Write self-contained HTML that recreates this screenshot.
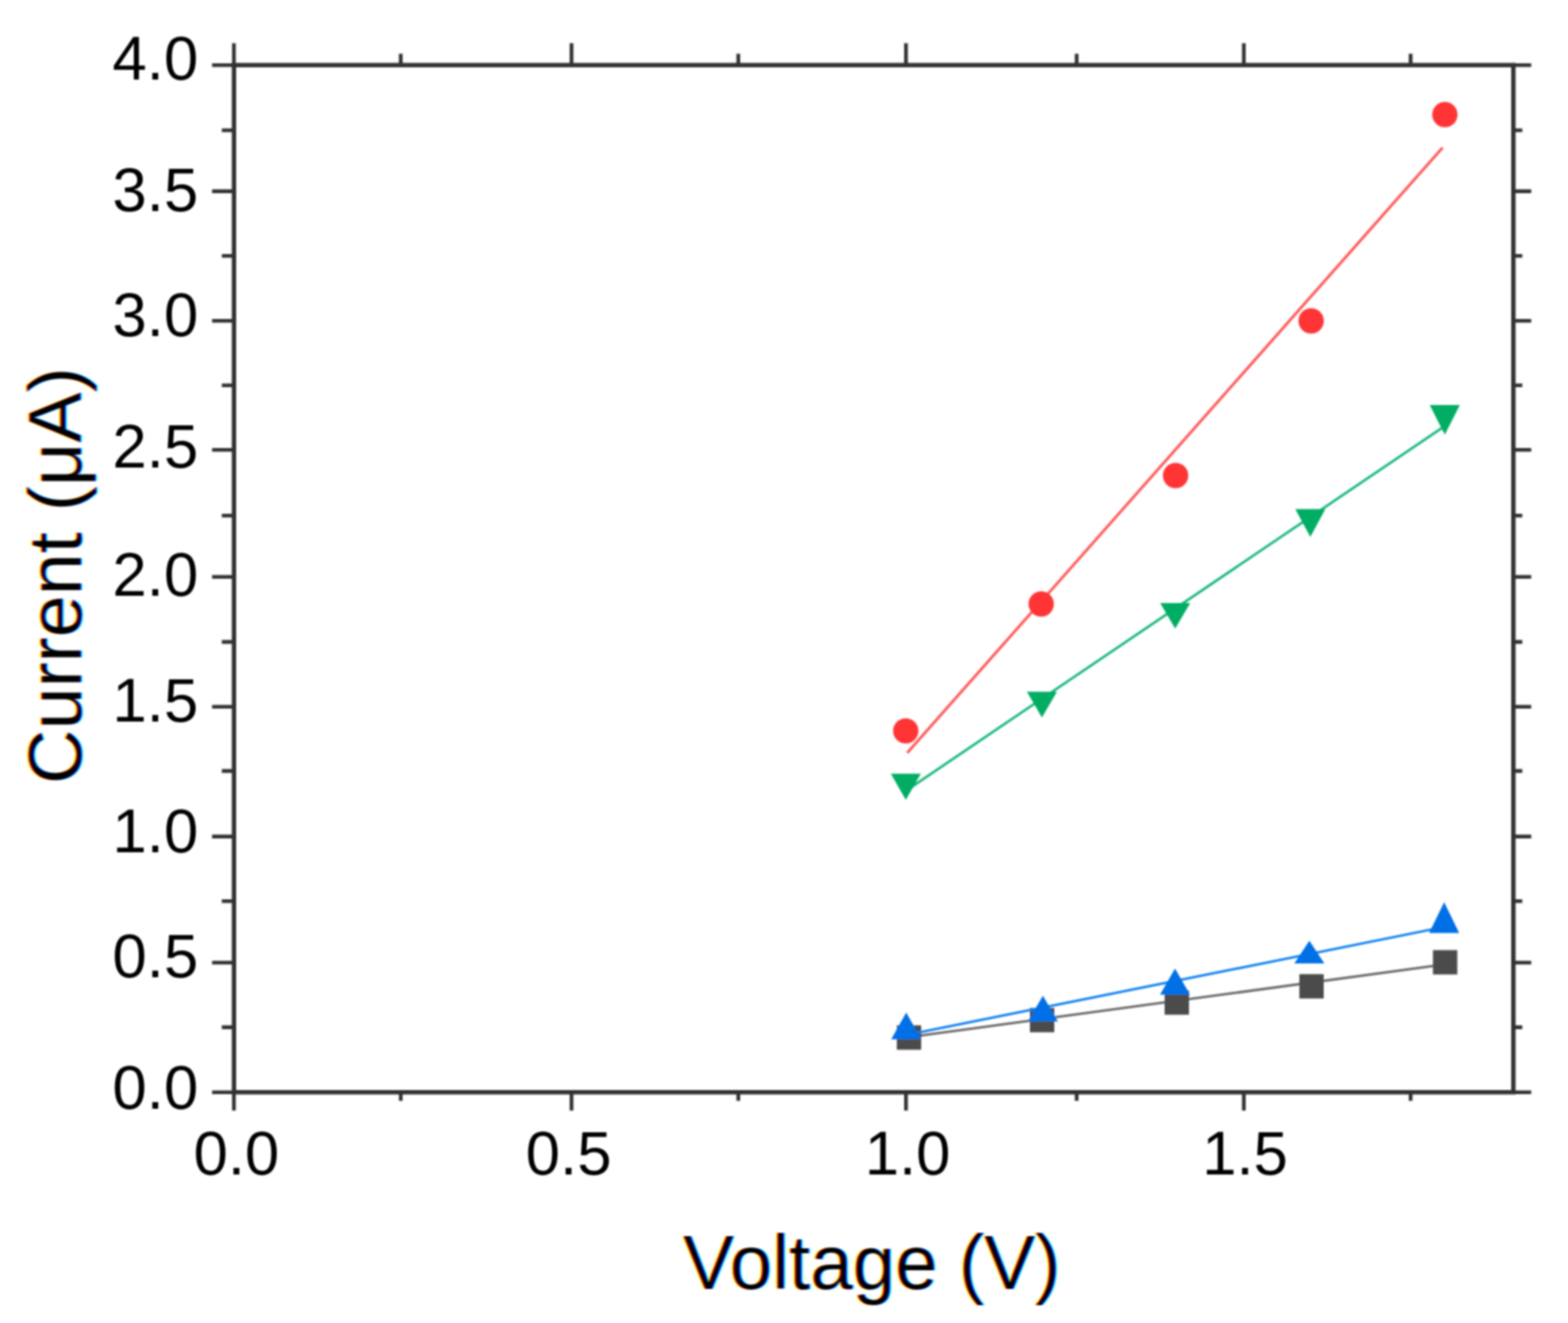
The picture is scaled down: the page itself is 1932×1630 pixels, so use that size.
<!DOCTYPE html>
<html><head><meta charset="utf-8"><title>Current vs Voltage</title>
<style>
html,body{margin:0;padding:0;background:#fff;}
body{width:1932px;height:1630px;overflow:hidden;}
svg{display:block;}
text{font-family:"Liberation Sans",Arial,sans-serif;fill:#000;}
</style></head>
<body>
<svg width="1932" height="1630" viewBox="0 0 1932 1630">
<rect width="1932" height="1630" fill="#fff"/>
<g id="plot" filter="url(#bl2)">
<line x1="1117.8" y1="1278.1" x2="1781.5" y2="1188.0" stroke="#6a6a6a" stroke-width="3.0"/>
<g fill="#4c4c4c"><rect x="1105.0" y="1263.3" width="30.0" height="30.0"/><rect x="1269.0" y="1241.8" width="30.0" height="30.0"/><rect x="1435.0" y="1220.2" width="30.0" height="30.0"/><rect x="1601.0" y="1200.2" width="30.0" height="30.0"/><rect x="1765.6" y="1170.6" width="30.0" height="30.0"/></g>
<line x1="1117.8" y1="927.7" x2="1777.5" y2="181.8" stroke="#ff5a5a" stroke-width="3.4"/>
<g fill="#ff3636"><circle cx="1116.0" cy="900.5" r="15.6"/><circle cx="1282.9" cy="744.1" r="15.6"/><circle cx="1448.5" cy="585.9" r="15.6"/><circle cx="1615.5" cy="395.4" r="15.6"/><circle cx="1780.3" cy="141.2" r="15.6"/></g>
<line x1="1117.8" y1="1274.9" x2="1781.5" y2="1141.6" stroke="#0a80ee" stroke-width="3.0"/>
<g fill="#0070e6"><path d="M1098.1 1280.4L1135.1 1280.4L1116.6 1247.5Z"/><path d="M1266.5 1258.6L1303.5 1258.6L1285.0 1226.7Z"/><path d="M1429.3 1225.5L1466.3 1225.5L1447.8 1193.2Z"/><path d="M1594.8 1187.0L1631.8 1187.0L1613.3 1159.0Z"/><path d="M1760.9 1149.4L1797.9 1149.4L1779.4 1111.5Z"/></g>
<line x1="1117.8" y1="973.2" x2="1781.5" y2="524.0" stroke="#14b57c" stroke-width="3.0"/>
<g fill="#00ad63"><path d="M1097.6 953.2L1134.6 953.2L1116.1 985.4Z"/><path d="M1265.3 852.2L1302.3 852.2L1283.8 883.9Z"/><path d="M1429.5 742.9L1466.5 742.9L1448.0 774.5Z"/><path d="M1596.0 627.2L1633.0 627.2L1614.5 661.6Z"/><path d="M1761.7 499.1L1798.7 499.1L1780.2 535.6Z"/></g>
</g>
<defs><filter id="bl" filterUnits="userSpaceOnUse" x="0" y="0" width="1932" height="1630"><feGaussianBlur stdDeviation="0.95"/></filter>
<filter id="bl2" filterUnits="userSpaceOnUse" x="0" y="0" width="1932" height="1630"><feGaussianBlur stdDeviation="0.8"/></filter>
<filter id="bl3" filterUnits="userSpaceOnUse" x="0" y="0" width="1932" height="1630"><feGaussianBlur stdDeviation="0.8"/></filter>
<filter id="sub" filterUnits="userSpaceOnUse" x="0" y="0" width="1932" height="1630" color-interpolation-filters="sRGB">
<feOffset in="SourceAlpha" dx="1.6" dy="0" result="ra"/>
<feOffset in="SourceAlpha" dx="-1.6" dy="0" result="ba"/>
<feColorMatrix in="ra" type="matrix" values="0 0 0 0 0  0 0 0 0 1  0 0 0 0 1  0 0 0 1 0" result="rc"/>
<feColorMatrix in="SourceAlpha" type="matrix" values="0 0 0 0 1  0 0 0 0 0  0 0 0 0 1  0 0 0 1 0" result="gc"/>
<feColorMatrix in="ba" type="matrix" values="0 0 0 0 1  0 0 0 0 1  0 0 0 0 0  0 0 0 1 0" result="bc"/>
<feBlend mode="multiply" in="rc" in2="gc" result="rg"/>
<feBlend mode="multiply" in="rg" in2="bc" result="rgb"/>
<feGaussianBlur in="rgb" stdDeviation="0.9"/>
<feColorMatrix type="saturate" values="0.75"/>
</filter></defs>
<g id="axes" stroke="#333" fill="none" filter="url(#bl)">
<rect x="288.3" y="80.2" width="1576.4" height="1265.5" stroke-width="5.4"/>
<path d="M261.3 80.2L288.3 80.2 M261.3 235.6L288.3 235.6 M261.3 395.2L288.3 395.2 M261.3 554.3L288.3 554.3 M261.3 710.8L288.3 710.8 M261.3 870.8L288.3 870.8 M261.3 1030.6L288.3 1030.6 M261.3 1186.0L288.3 1186.0 M261.3 1345.7L288.3 1345.7 M273.3 160.5L288.3 160.5 M273.3 315.2L288.3 315.2 M273.3 474.8L288.3 474.8 M273.3 635.2L288.3 635.2 M273.3 790.9L288.3 790.9 M273.3 949.9L288.3 949.9 M273.3 1110.2L288.3 1110.2 M273.3 1265.6L288.3 1265.6 M1864.7 80.2L1886.7 80.2 M1864.7 235.6L1886.7 235.6 M1864.7 395.2L1886.7 395.2 M1864.7 554.3L1886.7 554.3 M1864.7 710.8L1886.7 710.8 M1864.7 870.8L1886.7 870.8 M1864.7 1030.6L1886.7 1030.6 M1864.7 1186.0L1886.7 1186.0 M1864.7 1345.7L1886.7 1345.7 M1864.7 160.5L1875.7 160.5 M1864.7 315.2L1875.7 315.2 M1864.7 474.8L1875.7 474.8 M1864.7 635.2L1875.7 635.2 M1864.7 790.9L1875.7 790.9 M1864.7 949.9L1875.7 949.9 M1864.7 1110.2L1875.7 1110.2 M1864.7 1265.6L1875.7 1265.6 M288.2 1345.7L288.2 1368.2 M704.2 1345.7L704.2 1368.2 M1116.3 1345.7L1116.3 1368.2 M1532.6 1345.7L1532.6 1368.2 M493.8 1345.7L493.8 1356.2 M909.7 1345.7L909.7 1356.2 M1326.6 1345.7L1326.6 1356.2 M1738.1 1345.7L1738.1 1356.2 M288.2 53.2L288.2 80.2 M704.2 53.2L704.2 80.2 M1116.3 53.2L1116.3 80.2 M1532.6 53.2L1532.6 80.2 M493.8 66.2L493.8 80.2 M909.7 66.2L909.7 80.2 M1326.6 66.2L1326.6 80.2 M1738.1 66.2L1738.1 80.2" stroke-width="4.6"/>
</g>
<g id="ticklabels" font-size="76" filter="url(#bl3)">
<text x="244.2" y="97.7" text-anchor="end">4.0</text>
<text x="244.2" y="259.8" text-anchor="end">3.5</text>
<text x="244.2" y="413.9" text-anchor="end">3.0</text>
<text x="244.2" y="575.6" text-anchor="end">2.5</text>
<text x="244.2" y="733.8" text-anchor="end">2.0</text>
<text x="244.2" y="889.0" text-anchor="end">1.5</text>
<text x="244.2" y="1050.2" text-anchor="end">1.0</text>
<text x="244.2" y="1204.3" text-anchor="end">0.5</text>
<text x="244.2" y="1365.9" text-anchor="end">0.0</text>
<text x="238.4" y="1446.8">0.0</text>
<text x="647.8" y="1446.8">0.5</text>
<text x="1065.4" y="1446.8">1.0</text>
<text x="1481.2" y="1446.8">1.5</text>
</g>
<g id="titles" filter="url(#sub)">
<text x="841.4" y="1587.5" font-size="94">Voltage (V)</text>
<text transform="translate(99.8 965.9) rotate(-90)" x="0" y="0" font-size="93">Current (μA)</text>
</g>
</svg>
</body></html>
